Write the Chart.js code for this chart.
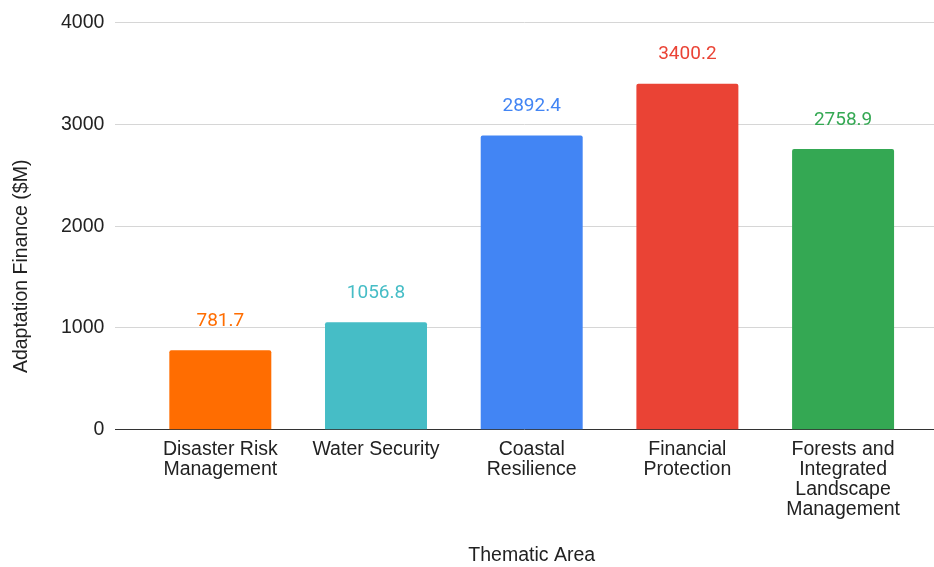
<!DOCTYPE html>
<html>
<head>
<meta charset="utf-8">
<title>Adaptation Finance by Thematic Area</title>
<script src="https://cdn.jsdelivr.net/npm/chart.js@4.4.1/dist/chart.umd.min.js"></script>
<style>
  html, body { margin: 0; padding: 0; background: #fff; }
  #wrap { width: 934px; height: 567px; }
</style>
</head>
<body>
<div id="wrap"><canvas id="myChart"></canvas></div>
<script>
// thematic areas, one line per array entry for the axis labels
var areas = [
  ["Disaster Risk", "Management"],
  ["Water Security"],
  ["Coastal", "Resilience"],
  ["Financial", "Protection"],
  ["Forests and", "Integrated", "Landscape", "Management"],
];
var finance = [781.7, 1056.8, 2892.4, 3400.2, 2758.9];
var barColors = ["#FF6D01", "#46BDC6", "#4285F4", "#EA4335", "#34A853"];
var yTicks = [0, 1000, 2000, 3000, 4000];

var xTitle = "Thematic Area";
var yTitle = "Adaptation Finance ($M)";

var FONT = "'Liberation Sans', Arial, sans-serif";

// value labels above each bar, in the bar's colour
var valueLabels = {
  id: "valueLabels",
  afterDatasetsDraw: function (chart) {
    var ctx = chart.ctx;
    var meta = chart.getDatasetMeta(0);
    ctx.save();
    ctx.font = "19px Roboto, sans-serif";
    ctx.textAlign = "center";
    ctx.textBaseline = "middle";
    meta.data.forEach(function (bar, i) {
      ctx.fillStyle = barColors[i];
      ctx.fillText(finance[i].toFixed(1), bar.x, bar.y - 29);
    });
    ctx.restore();
  },
};

// axis titles: x centred under the bars, y centred on plot + labels
var axisTitles = {
  id: "axisTitles",
  afterDraw: function (chart) {
    var ctx = chart.ctx;
    var x = chart.scales.x;
    var area = chart.chartArea;
    ctx.save();
    ctx.font = "19.5px " + FONT;
    ctx.fillStyle = "#222";
    ctx.textAlign = "center";
    ctx.textBaseline = "middle";
    var cx = (x.getPixelForValue(0) + x.getPixelForValue(areas.length - 1)) / 2;
    ctx.fillText(xTitle, cx, chart.height - 11);
    ctx.translate(22, (area.top + x.bottom) / 2 - 10);
    ctx.rotate(-Math.PI / 2);
    ctx.fillText(yTitle, 0, 0);
    ctx.restore();
  },
};

new Chart("myChart", {
  type: "bar",
  data: {
    datasets: [
      {
        data: finance.map(function (v, i) { return { x: i, y: v }; }),
        backgroundColor: barColors,
        borderRadius: 2,
        borderSkipped: "bottom",
        categoryPercentage: 1,
        barPercentage: 0.655,
      },
    ],
  },
  options: {
    responsive: true,
    maintainAspectRatio: false,
    animation: false,
    layout: { padding: { left: 50, right: 0, top: 12, bottom: 37 } },
    plugins: {
      legend: { display: false },
      tooltip: { enabled: false },
    },
    scales: {
      x: {
        type: "linear",
        offset: false,
        min: -0.674,
        max: 4.584,
        afterBuildTicks: function (scale) {
          scale.ticks = areas.map(function (a, i) { return { value: i }; });
        },
        ticks: {
          autoSkip: false,
          maxRotation: 0,
          padding: 10,
          color: "#222",
          font: { family: FONT, size: 19.5, lineHeight: 1.03 },
          callback: function (v) { return areas[v]; },
        },
        grid: { display: false, drawTicks: false },
        border: { display: false },
      },
      y: {
        min: 0,
        max: 4000,
        afterBuildTicks: function (scale) {
          scale.ticks = yTicks.map(function (v) { return { value: v }; });
        },
        ticks: {
          padding: 11,
          color: "#222",
          font: { family: FONT, size: 19.5 },
          callback: function (v) { return String(v); },
        },
        grid: {
          drawTicks: false,
          lineWidth: 1,
          color: function (c) { return c.tick && c.tick.value === 0 ? "#333" : "#d6d6d6"; },
        },
        border: { display: false },
      },
    },
  },
  plugins: [valueLabels, axisTitles],
});
</script>
</body>
</html>
